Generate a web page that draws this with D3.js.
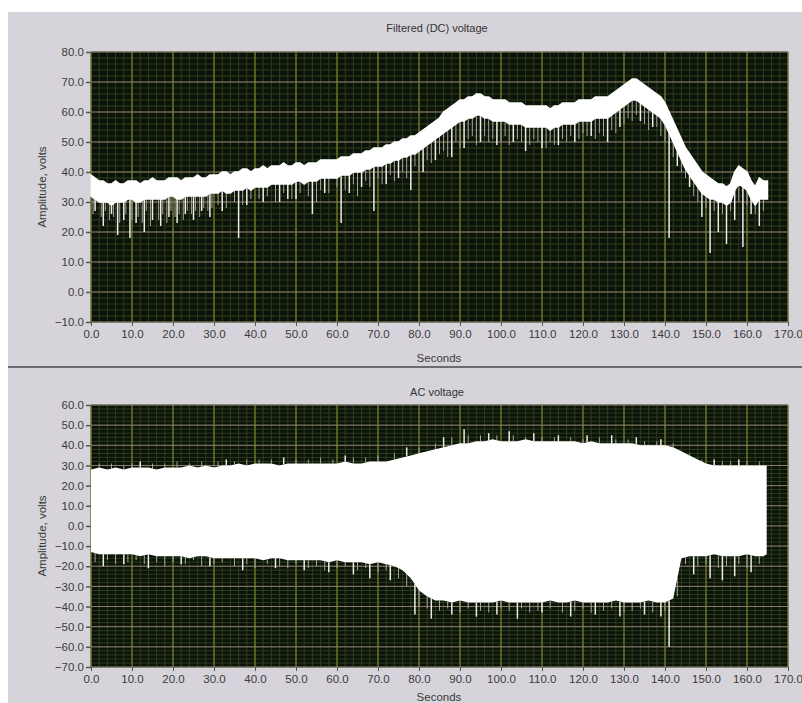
<!DOCTYPE html>
<html>
<head>
<meta charset="utf-8">
<script src="https://cdn.jsdelivr.net/npm/d3@7"></script>
<style>
  body { margin: 0; background: #ffffff; }
  svg { display: block; font-family: "Liberation Sans", Arial, sans-serif; }
  .tick text { fill: #3a3a3a; }
</style>
</head>
<body>
<svg width="802" height="703"></svg>
<script>
// Time axis ticks (seconds)
const timeTicks = [0, 10, 20, 30, 40, 50, 60, 70, 80, 90, 100, 110, 120, 130, 140, 150, 160, 170];

// Filtered (DC) voltage: top and bottom edge of the thick trace, one reading per second (0..165 s)
const dcHigh = [
  39, 38, 37, 37, 36, 36, 37, 36, 36, 37,
  37, 37, 36, 37, 37, 38, 37, 37, 37, 38,
  38, 38, 37, 38, 38, 38, 39, 38, 38, 39,
  39, 39, 40, 40, 39, 40, 40, 41, 41, 40,
  41, 41, 42, 41, 42, 42, 42, 43, 42, 42,
  43, 43, 42, 43, 43, 43, 44, 44, 44, 44,
  44, 45, 45, 45, 46, 46, 46, 47, 47, 48,
  48, 48, 49, 49, 50, 50, 51, 51, 52, 52,
  53, 54, 55, 56, 57, 58, 60, 61, 62, 63,
  64, 64, 65, 65, 66, 66, 65, 65, 64, 64,
  64, 64, 63, 63, 63, 63, 62, 62, 62, 62,
  62, 62, 61, 62, 62, 63, 63, 63, 63, 64,
  64, 64, 64, 65, 65, 65, 65, 66, 67, 68,
  69, 70, 71, 71, 70, 69, 68, 67, 66, 65,
  63, 60, 57, 54, 51, 48, 46, 44, 42, 40,
  39, 38, 37, 36, 36, 35, 36, 40, 42, 41,
  40, 37, 35, 38, 37, 37];
const dcLow = [
  32, 31, 30, 30, 30, 29, 30, 30, 30, 31,
  31, 30, 30, 31, 31, 31, 31, 31, 31, 32,
  32, 31, 31, 32, 32, 32, 32, 32, 32, 33,
  33, 33, 34, 33, 33, 34, 34, 34, 35, 34,
  35, 35, 35, 35, 36, 36, 36, 36, 36, 36,
  37, 37, 36, 37, 37, 37, 38, 38, 38, 38,
  38, 39, 39, 39, 40, 40, 40, 41, 41, 42,
  42, 42, 43, 43, 44, 44, 45, 45, 46, 46,
  47, 48, 49, 50, 51, 52, 53, 54, 55, 56,
  57, 57, 58, 58, 59, 59, 58, 58, 57, 57,
  57, 57, 56, 56, 56, 56, 55, 55, 55, 55,
  55, 55, 54, 55, 55, 56, 56, 56, 56, 57,
  57, 57, 57, 58, 58, 58, 58, 59, 60, 61,
  62, 63, 64, 64, 63, 62, 61, 60, 59, 58,
  56, 53, 50, 47, 44, 41, 39, 37, 35, 33,
  32, 31, 31, 30, 30, 29, 30, 34, 36, 35,
  34, 31, 29, 31, 31, 31];
// long downward glitches: [seconds, lowest volts]
const dcSpikes = [[1, 27], [3, 22], [5, 26], [6.5, 19], [8, 24], [9.5, 18], [11, 23], [13, 20], [15, 24], [17, 22],
  [19, 25], [21, 23], [23, 26], [25, 24], [27, 27], [29, 25], [32, 27], [36, 18], [38, 29], [42, 30], [46, 30],
  [48, 31], [50, 31], [54, 26], [57, 33], [61, 23], [63, 33], [66, 35], [69, 27], [72, 36], [75, 38], [78, 34],
  [81, 40], [84, 44], [88, 45], [91, 48], [95, 50], [99, 49], [103, 50], [106, 47], [110, 48], [114, 49],
  [118, 50], [122, 52], [126, 50], [129, 55], [134, 57], [137, 55], [141, 18], [143, 42], [146, 35], [149, 25],
  [151, 13], [153, 20], [155, 16], [157, 24], [159, 15], [161, 26], [163, 22]];
// short noise below the trace: [seconds, lowest volts]
const dcGrass = [[0.5, 26], [2.5, 25], [3.5, 27], [4.5, 24], [5.5, 25], [7, 23], [8.5, 26], [10, 24], [11.5, 25],
  [12.5, 23], [13.5, 27], [14.5, 22], [16.5, 24], [17.5, 26], [18.5, 23], [19.5, 27], [20.5, 25], [21.5, 26],
  [22.5, 24], [23.5, 27], [24.5, 26], [25.5, 27], [26.5, 25], [27.5, 28], [28.5, 27], [29.5, 28], [31, 29],
  [33, 28], [35, 30], [37, 29], [39, 31], [41, 31], [43, 32], [45, 30], [47, 33], [49, 31], [51, 33], [53, 32],
  [55, 30], [56, 34], [58, 33], [60, 35], [62, 34], [64, 36], [65, 32], [67, 37], [68, 35], [70, 38], [71, 36],
  [73, 39], [74, 37], [76, 40], [77, 38], [79, 42], [80, 40], [82, 44], [83, 43], [85, 46], [86, 47], [87, 45],
  [89, 50], [90, 48], [92, 51], [93, 52], [94, 49], [96, 52], [97, 50], [98, 51], [100, 50], [101, 52], [102, 49],
  [104, 51], [105, 50], [107, 49], [108, 51], [109, 50], [111, 48], [112, 50], [113, 49], [115, 51], [116, 50],
  [117, 52], [119, 51], [120, 53], [121, 52], [123, 51], [124, 53], [125, 52], [127, 54], [128, 53], [130, 56],
  [131, 58], [132, 57], [133, 59], [135, 56], [136, 54], [138, 55], [139, 52], [140, 50], [142, 45], [144, 40],
  [145, 38], [147, 32], [148, 30], [150, 28], [152, 27], [154, 26], [156, 27], [158, 30], [160, 29], [162, 26],
  [164, 27]];

// AC voltage: upper and lower edge of the filled envelope, one reading every 2 s (0..164 s), trace ends at 164.8 s
const acHigh = [
  28, 29, 28, 29, 28, 29, 29, 29, 28, 29,
  29, 29, 30, 29, 30, 29, 30, 30, 31, 30,
  31, 31, 31, 30, 31, 31, 31, 31, 31, 31,
  31, 32, 31, 31, 32, 32, 32, 33, 34, 35,
  36, 37, 38, 39, 40, 41, 41, 42, 42, 43,
  42, 42, 42, 43, 42, 42, 42, 42, 42, 42,
  41, 42, 41, 41, 41, 41, 41, 40, 40, 40,
  40, 39, 37, 35, 33, 31, 30, 30, 30, 30,
  30, 30, 30, 30];
const acLow = [
  -13, -14, -14, -14, -14, -14, -15, -14, -15, -15,
  -15, -15, -16, -15, -15, -16, -16, -16, -16, -16,
  -16, -17, -16, -16, -17, -17, -17, -17, -17, -18,
  -17, -18, -18, -18, -19, -18, -19, -20, -22, -26,
  -32, -35, -37, -37, -38, -37, -38, -38, -38, -38,
  -37, -38, -38, -38, -38, -38, -37, -38, -38, -37,
  -38, -38, -38, -38, -37, -38, -38, -38, -37, -38,
  -38, -36, -16, -15, -15, -15, -14, -15, -15, -15,
  -14, -15, -15, -14];
const acSpikesDown = [[3, -20], [8, -19], [14, -21], [22, -19], [29, -20], [37, -22], [45, -21], [52, -22], [58, -23],
  [64, -24], [68, -26], [73, -27], [79, -44], [83, -46], [88, -44], [94, -45], [99, -44], [104, -46], [110, -43],
  [117, -45], [123, -44], [129, -45], [135, -44], [139, -45], [141, -60], [147, -24], [151, -26], [154, -27],
  [157, -25], [161, -23]];
const acSpikesUp = [[12, 32], [33, 33], [47, 34], [62, 35], [77, 39], [86, 44], [91, 48], [97, 46], [102, 47],
  [108, 46], [114, 45], [121, 45], [127, 45], [133, 44], [139, 43], [152, 33], [158, 33]];
// short noise on both edges of the AC envelope
const acGrassDown = [[1, -18], [4, -17], [6, -19], [9, -18], [11, -17], [13, -19], [16, -18], [18, -20], [20, -18],
  [23, -19], [25, -17], [27, -20], [30, -19], [32, -18], [35, -20], [38, -19], [40, -21], [43, -19], [46, -20],
  [48, -21], [50, -19], [53, -21], [55, -20], [57, -22], [60, -21], [62, -20], [65, -22], [67, -21], [70, -23],
  [72, -22], [75, -26], [77, -30], [80, -40], [82, -41], [85, -42], [87, -41], [90, -43], [92, -41], [95, -42],
  [97, -43], [100, -41], [102, -42], [105, -41], [107, -43], [109, -42], [112, -41], [115, -43], [118, -42],
  [120, -41], [122, -43], [125, -42], [127, -41], [130, -43], [132, -42], [134, -41], [137, -43], [140, -42],
  [143, -35], [145, -19], [148, -20], [150, -19], [153, -21], [155, -20], [158, -19], [160, -21], [163, -19]];
const acGrassUp = [[2, 31], [5, 31], [8, 30], [10, 31], [15, 31], [18, 31], [21, 32], [24, 31], [27, 32], [31, 32],
  [35, 32], [38, 33], [41, 33], [44, 33], [50, 33], [53, 33], [56, 34], [59, 33], [64, 34], [67, 34], [70, 35],
  [74, 36], [80, 39], [84, 41], [88, 44], [92, 45], [95, 45], [99, 45], [103, 45], [106, 44], [110, 44], [113, 44],
  [117, 44], [120, 43], [124, 44], [128, 43], [131, 43], [135, 42], [138, 42], [142, 41], [146, 36], [149, 33],
  [154, 32], [156, 32], [160, 32], [163, 32]];

const dcTicks = [-10, 0, 10, 20, 30, 40, 50, 60, 70, 80];
const acTicks = [-70, -60, -50, -40, -30, -20, -10, 0, 10, 20, 30, 40, 50, 60];

// sample instants of the two traces
const dcTime = d3.range(0, dcHigh.length);
const acTime = d3.range(0, acHigh.length - 1).map(i => i * 2).concat([164.8]);

let svg = d3.select('svg');

// Panel background (the photographed front panel)
svg.append('rect')
  .attr('x', 8).attr('y', 12)
  .attr('width', 794).attr('height', 691)
  .attr('fill', '#d6d4da');

svg.append('line')
  .attr('x1', 8).attr('x2', 802)
  .attr('y1', 367).attr('y2', 367)
  .attr('stroke', '#6d6b72')
  .attr('stroke-width', 2);

// vertical hairlines from a reference edge out to a value
function hairlines(g, data, x, y, edge, color, width) {
  g.append('g')
    .selectAll('line')
    .data(data)
    .enter().append('line')
    .attr('x1', d => x(d[0])).attr('x2', d => x(d[0]))
    .attr('y1', d => y(edge(d[0]))).attr('y2', d => y(d[1]))
    .attr('stroke', color).attr('stroke-width', width);
}

function drawPanel(opts) {
  let g = svg.append('g');
  let x = d3.scaleLinear().domain([0, 170]).range([opts.left, opts.right]);
  let y = d3.scaleLinear().domain(opts.domain).range([opts.bottom, opts.top]);

  // plot area
  g.append('rect')
    .attr('x', opts.left).attr('y', opts.top)
    .attr('width', opts.right - opts.left)
    .attr('height', opts.bottom - opts.top)
    .attr('fill', '#0b1209');

  // minor grid
  g.append('g')
    .selectAll('line')
    .data(d3.range(0, 171, 2))
    .enter().append('line')
    .attr('x1', d => x(d)).attr('x2', d => x(d))
    .attr('y1', opts.top).attr('y2', opts.bottom)
    .attr('stroke', '#2c3f1d').attr('stroke-width', 1);
  g.append('g')
    .selectAll('line')
    .data(d3.range(opts.domain[0], opts.domain[1] + 1, 2))
    .enter().append('line')
    .attr('x1', opts.left).attr('x2', opts.right)
    .attr('y1', d => y(d)).attr('y2', d => y(d))
    .attr('stroke', '#2c3f1d').attr('stroke-width', 1);

  // major grid
  g.append('g')
    .selectAll('line')
    .data(opts.yTicks)
    .enter().append('line')
    .attr('x1', opts.left).attr('x2', opts.right)
    .attr('y1', d => y(d)).attr('y2', d => y(d))
    .attr('stroke', '#8a7d6c').attr('stroke-width', 1);
  g.append('g')
    .selectAll('line')
    .data(timeTicks)
    .enter().append('line')
    .attr('x1', d => x(d)).attr('x2', d => x(d))
    .attr('y1', opts.top).attr('y2', opts.bottom)
    .attr('stroke', '#8f8d32').attr('stroke-width', 1);

  opts.plot(g, x, y);

  // X-Axis
  let xAxis = g.append('g')
    .attr('transform', `translate(0, ${opts.bottom})`)
    .style('font-size', '11.5px')
    .call(d3.axisBottom(x).tickValues(timeTicks).tickFormat(d3.format('.1f')).tickSize(4).tickPadding(4));
  xAxis.select('.domain').remove();
  xAxis.selectAll('.tick line').attr('stroke', '#555');

  // Y-Axis
  let yAxis = g.append('g')
    .attr('transform', `translate(${opts.left}, 0)`)
    .style('font-size', '11.5px')
    .call(d3.axisLeft(y).tickValues(opts.yTicks).tickFormat(d3.format('.1f')).tickSize(5).tickPadding(2));
  yAxis.select('.domain').remove();
  yAxis.selectAll('.tick line').attr('stroke', '#555').attr('stroke-width', 1.5);

  // Titles
  g.append('text')
    .text(opts.title)
    .attr('x', 437).attr('y', opts.titleY)
    .attr('text-anchor', 'middle')
    .style('font-size', '11px')
    .attr('fill', '#333');

  g.append('text')
    .text('Seconds')
    .attr('x', 439).attr('y', opts.secondsY)
    .attr('text-anchor', 'middle')
    .style('font-size', '11.5px')
    .attr('fill', '#3a3a3a');

  g.append('text')
    .text('Amplitude, volts')
    .attr('transform', `translate(46, ${(opts.top + opts.bottom) / 2}) rotate(-90)`)
    .attr('text-anchor', 'middle')
    .style('font-size', '11.5px')
    .attr('fill', '#3a3a3a');
}

// Top panel: Filtered (DC) voltage
drawPanel({
  title: 'Filtered (DC) voltage',
  left: 91, right: 788, top: 52, bottom: 322,
  titleY: 32, secondsY: 362,
  domain: [-10, 80], yTicks: dcTicks,
  plot: function (g, x, y) {
    let band = dcTime.map((t, i) => ({ t: t, hi: dcHigh[i], lo: dcLow[i] }));
    let lowAt = d3.scaleLinear().domain(dcTime).range(dcLow);
    hairlines(g, dcGrass, x, y, lowAt, '#a7a59c', 1);
    hairlines(g, dcSpikes, x, y, lowAt, '#eeece4', 1.5);
    g.append('path')
      .datum(band)
      .attr('d', d3.area().x(d => x(d.t)).y0(d => y(d.lo)).y1(d => y(d.hi)))
      .attr('fill', '#ffffff')
      .attr('stroke', '#ffffff').attr('stroke-width', 1.5);
  }
});

// Bottom panel: AC voltage
drawPanel({
  title: 'AC voltage',
  left: 91, right: 788, top: 405, bottom: 667,
  titleY: 396, secondsY: 701,
  domain: [-70, 60], yTicks: acTicks,
  plot: function (g, x, y) {
    let band = acTime.map((t, i) => ({ t: t, hi: acHigh[i], lo: acLow[i] }));
    let lowAt = d3.scaleLinear().domain(acTime).range(acLow);
    let highAt = d3.scaleLinear().domain(acTime).range(acHigh);
    hairlines(g, acGrassDown, x, y, lowAt, '#a7a59c', 1);
    hairlines(g, acGrassUp, x, y, highAt, '#a7a59c', 1);
    hairlines(g, acSpikesDown, x, y, lowAt, '#eeece4', 1.5);
    hairlines(g, acSpikesUp, x, y, highAt, '#eeece4', 1.5);
    g.append('path')
      .datum(band)
      .attr('d', d3.area().x(d => x(d.t)).y0(d => y(d.lo)).y1(d => y(d.hi)))
      .attr('fill', '#ffffff');
  }
});
</script>
</body>
</html>
